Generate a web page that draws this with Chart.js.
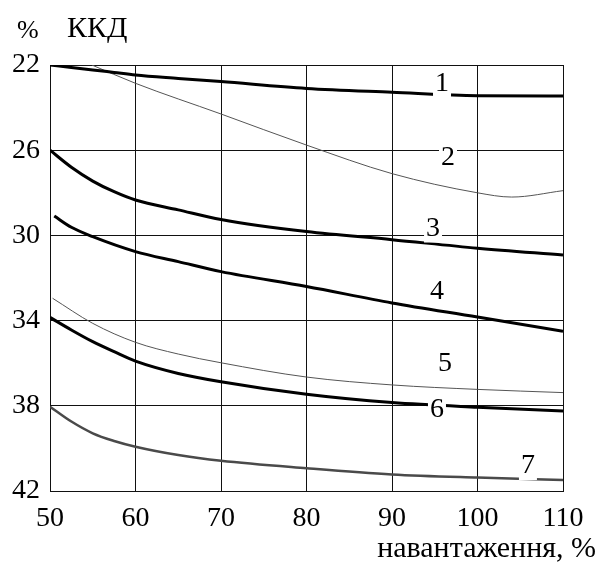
<!DOCTYPE html>
<html>
<head>
<meta charset="utf-8">
<script src="https://cdn.jsdelivr.net/npm/chart.js@4"></script>
<style>
  html, body { margin: 0; padding: 0; background: #fff; }
  #chart { display: block; }
</style>
</head>
<body>
<canvas id="chart" width="600" height="562"></canvas>
<script>
// значення ККД
const load = [50, 52.5, 55, 57.5, 60, 65, 70, 80, 90, 100, 110];
const eff1 = [22.0, 22.12, 22.23, 22.35, 22.47, 22.63, 22.78, 23.1, 23.28, 23.44, 23.45];
const load2 = [54.9, 60, 70, 80, 90, 100, 104, 110];
const eff2 = [22.0, 22.86, 24.3, 25.76, 27.1, 28.0, 28.2, 27.9];
const eff3 = [26.0, 26.8, 27.45, 27.95, 28.34, 28.8, 29.25, 29.82, 30.2, 30.6, 30.92];
const load4 = [50.5, 52.5, 55, 60, 65, 70, 80, 90, 100, 110];
const eff4 = [29.09, 29.62, 30.06, 30.76, 31.23, 31.7, 32.4, 33.17, 33.83, 34.5];
const load5 = [50.3, 55, 60, 65, 70, 80, 90, 100, 110];
const eff5 = [32.95, 34.13, 35.02, 35.57, 35.98, 36.65, 37.02, 37.23, 37.38];
const eff6 = [33.85, 34.44, 34.99, 35.46, 35.9, 36.48, 36.87, 37.46, 37.85, 38.07, 38.24];
const eff7 = [38.04, 38.74, 39.29, 39.65, 39.92, 40.31, 40.58, 40.93, 41.22, 41.37, 41.48];

const xTicks = [50, 60, 70, 80, 90, 100, 110];
const yTicks = [22, 26, 30, 34, 38, 42];

// підписи кривих (номери)
const curveNames = ["1", "2", "3", "4", "5", "6", "7"];
const nameX = [95.85, 96.55, 94.8, 95.26, 96.2, 95.26, 105.9];
const nameY = [22.85, 26.32, 29.63, 32.6, 35.99, 38.13, 40.78];

const FONT = "'Liberation Serif', 'Times New Roman', serif";

function pts(xs, ys) {
  return ys.map((y, i) => ({ x: xs[i], y: y }));
}

const thick = { borderColor: "#000", borderWidth: 3 };
const thin = { borderColor: "#555", borderWidth: 1 };

const datasets = [
  { data: pts(load, eff1), ...thick },
  { data: pts(load2, eff2), ...thin },
  { data: pts(load, eff3), ...thick },
  { data: pts(load4, eff4), ...thick },
  { data: pts(load5, eff5), ...thin },
  { data: pts(load, eff6), ...thick },
  { data: pts(load, eff7), borderColor: "#4a4a4a", borderWidth: 2.5 }
].map(d => ({ ...d, pointRadius: 0, fill: false, cubicInterpolationMode: "monotone" }));

// номери кривих на білому фоні
const curveLabels = {
  id: "curveLabels",
  afterDatasetsDraw(chart) {
    const ctx = chart.ctx;
    const xs = chart.scales.x, ys = chart.scales.y;
    ctx.save();
    ctx.font = "28px " + FONT;
    ctx.textAlign = "center";
    ctx.textBaseline = "middle";
    curveNames.forEach((t, i) => {
      const px = xs.getPixelForValue(nameX[i]);
      const py = ys.getPixelForValue(nameY[i]);
      const w = ctx.measureText(t).width + 4;
      ctx.fillStyle = "#fff";
      ctx.fillRect(px - w / 2, py - 12, w, 27);
      ctx.fillStyle = "#000";
      ctx.fillText(t, px, py + 1);
    });
    ctx.restore();
  }
};

// підписи осей
const axisTexts = {
  id: "axisTexts",
  afterDraw(chart) {
    const ctx = chart.ctx;
    ctx.save();
    ctx.fillStyle = "#000";
    ctx.textBaseline = "alphabetic";
    ctx.textAlign = "left";
    ctx.font = "26px " + FONT;
    ctx.fillText("%", 17, 38);
    ctx.font = "30px " + FONT;
    ctx.fillText("ККД", 67, 37);
    ctx.font = "30px " + FONT;
    ctx.textAlign = "right";
    ctx.fillText("навантаження, %", 596, 557);
    ctx.restore();
  }
};

new Chart(document.getElementById("chart"), {
  type: "line",
  data: { datasets },
  plugins: [curveLabels, axisTexts],
  options: {
    responsive: false,
    animation: false,
    layout: { padding: { top: 65, right: 37, left: 0, bottom: 0 } },
    plugins: { legend: { display: false }, tooltip: { enabled: false } },
    scales: {
      x: {
        type: "linear",
        min: 50,
        max: 110,
        afterBuildTicks: (s) => { s.ticks = xTicks.map(v => ({ value: v })); },
        afterFit: (s) => { s.height = 71; },
        ticks: { color: "#000", padding: 11, maxRotation: 0, font: { family: FONT, size: 28 } },
        grid: { color: "#111", lineWidth: 1, drawTicks: false },
        border: { color: "#111", width: 1 }
      },
      y: {
        reverse: true,
        min: 22,
        max: 42,
        afterBuildTicks: (s) => { s.ticks = yTicks.map(v => ({ value: v })); },
        afterFit: (s) => { s.width = 50; },
        ticks: { color: "#000", padding: 10, font: { family: FONT, size: 28 } },
        grid: { color: "#111", lineWidth: 1, drawTicks: false },
        border: { color: "#111", width: 1 }
      }
    }
  }
});
</script>
</body>
</html>
